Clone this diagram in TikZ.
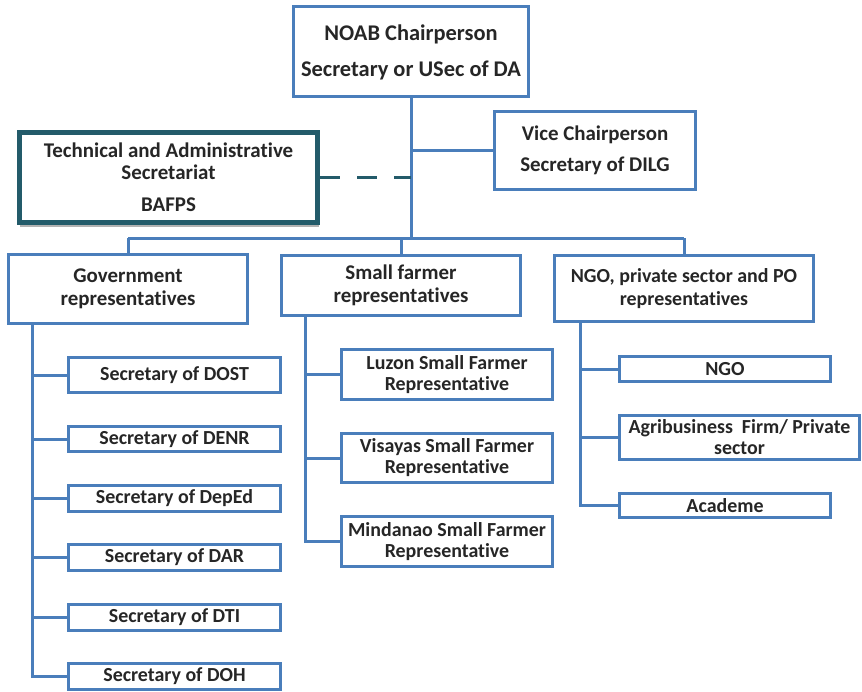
\documentclass[tikz,border=0pt]{standalone}
\usepackage{fontspec}
\setmainfont{Carlito}[Ligatures=NoCommon]
\usetikzlibrary{shadows}
\definecolor{lineblue}{HTML}{4A7EBB}
\definecolor{tealdark}{HTML}{235B6A}
\definecolor{txt}{HTML}{262626}
\tikzset{
  box/.style={draw=lineblue, line width=3bp, fill=white, inner sep=0pt,
    align=center, text=txt, font=\bfseries\fontsize{20}{22}\selectfont},
  conn/.style={draw=lineblue, line width=3bp},
  techbox/.style={draw=tealdark, line width=5bp, fill=white, inner sep=0pt,
    align=center, text=txt, font=\bfseries\fontsize{21}{22}\selectfont,
    drop shadow={shadow xshift=1bp, shadow yshift=-4bp, opacity=0.3, fill=black}},
  dashconn/.style={draw=tealdark, line width=3bp, dash pattern=on 20bp off 17bp}
}
\begin{document}
\begin{tikzpicture}[x=1bp,y=-1bp]
\useasboundingbox (0,0) rectangle (862,692);
% top level
\node[box, minimum width=235bp, minimum height=90bp, font=\bfseries\fontsize{22.5}{24}\selectfont] (chair) at (411,52) {NOAB Chairperson\\[12bp]Secretary or USec of DA};
\node[box, minimum width=201bp, minimum height=78bp, font=\bfseries\fontsize{21}{22}\selectfont] (vice) at (595,150.5) {Vice Chairperson\\[9bp]Secretary of DILG};
\node[techbox, minimum width=298bp, minimum height=90bp] (tech) at (168.5,177.5) {Technical and Administrative\\Secretariat\\[10bp]BAFPS};
% second level
\node[box, minimum width=239bp, minimum height=69bp, font=\bfseries\fontsize{21}{23}\selectfont] (gov) at (128,289) {Government\\representatives};
\node[box, minimum width=239bp, minimum height=60bp, font=\bfseries\fontsize{21}{23}\selectfont] (sf) at (401,285.5) {Small farmer\\representatives};
\node[box, minimum width=259bp, minimum height=66bp, font=\bfseries\fontsize{20}{23}\selectfont] (ngo) at (684,288.5) {NGO, private sector and PO\\representatives};
% government
\node[box, minimum width=212bp, minimum height=35bp] (dost) at (174.5,375) {Secretary of DOST};
\node[box, minimum width=212bp, minimum height=25bp] (denr) at (174.5,439) {Secretary of DENR};
\node[box, minimum width=212bp, minimum height=26bp] (deped) at (174.5,498.5) {Secretary of DepEd};
\node[box, minimum width=212bp, minimum height=26bp] (dar) at (174.5,557.5) {Secretary of DAR};
\node[box, minimum width=212bp, minimum height=26bp] (dti) at (174.5,617.5) {Secretary of DTI};
\node[box, minimum width=212bp, minimum height=26bp] (doh) at (174.5,676.5) {Secretary of DOH};
% small farmers
\node[box, minimum width=211bp, minimum height=50bp, font=\bfseries\fontsize{20}{21}\selectfont] (luzon) at (447,374.5) {Luzon Small Farmer\\Representative};
\node[box, minimum width=211bp, minimum height=49bp, font=\bfseries\fontsize{20}{21}\selectfont] (visayas) at (447,458) {Visayas Small Farmer\\Representative};
\node[box, minimum width=211bp, minimum height=50bp, font=\bfseries\fontsize{20}{21}\selectfont] (mindanao) at (447,541.5) {Mindanao Small Farmer\\Representative};
% ngo
\node[box, minimum width=211bp, minimum height=25bp] (ngosub) at (725,369) {NGO};
\node[box, minimum width=240bp, minimum height=44bp, font=\bfseries\fontsize{20}{21}\selectfont] (agri) at (739.5,437.5) {Agribusiness\ \ Firm/ Private\\sector};
\node[box, minimum width=211bp, minimum height=24bp] (academe) at (725,505.5) {Academe};
% connectors
\coordinate (bus) at (411,238);
\coordinate (busL) at (128,238);
\coordinate (busR) at (684,238);
\coordinate (busM) at (401,238);
\coordinate (vj) at (411,150.5);
\coordinate (tj) at (411,177.5);
\draw[conn] (chair.south) -- (bus);
\draw[conn] (vj) -- (vice.west);
\draw[dashconn] (tech.east) -- (tj);
\draw[conn] (busL) -- (busR);
\draw[conn] (busL) -- (gov.north);
\draw[conn] (busM) -- (sf.north);
\draw[conn] (busR) -- (ngo.north);
% spines
\coordinate (gs) at (32,323.5);
\coordinate (ss) at (305,315.5);
\coordinate (ns) at (580,321.5);
\foreach \c in {dost,denr,deped,dar,dti,doh} \draw[conn] (gs) |- (\c.west);
\foreach \c in {luzon,visayas,mindanao} \draw[conn] (ss) |- (\c.west);
\foreach \c in {ngosub,agri,academe} \draw[conn] (ns) |- (\c.west);
\end{tikzpicture}
\end{document}
